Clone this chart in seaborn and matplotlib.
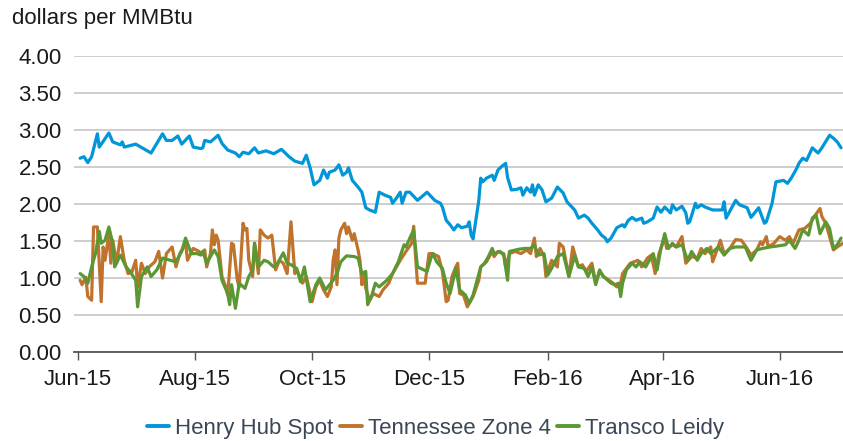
import numpy as np
import pandas as pd
import matplotlib
matplotlib.use("Agg")
import matplotlib.pyplot as plt
import matplotlib.dates as mdates
import seaborn as sns

# ---- data (days since 2015-06-01, $/MMBtu) ----
start_date = "2015-06-01"

henry_days = [1, 3, 5, 7, 10, 11, 16, 18, 22, 23, 24, 30, 34, 38, 44, 46, 49, 52, 54, 58,
              60, 64, 65, 66, 69, 73, 75, 78, 82, 84, 86, 89, 92, 94, 98, 102, 106, 110, 113, 117,
              119, 121, 123, 126, 128, 130, 131, 134, 136, 138, 140, 141, 143, 146, 148, 150, 152, 155, 157, 160,
              163, 164, 166, 168, 169, 171, 173, 177, 182, 186, 189, 190, 192, 194, 196, 198, 200, 203, 204, 205,
              206, 209, 210, 211, 213, 216, 217, 219, 221, 223, 224, 226, 229, 231, 232, 234, 236, 237, 238, 240,
              242, 244, 247, 250, 253, 255, 259, 261, 264, 266, 268, 271, 273, 275, 276, 278, 281, 284, 285, 287,
              289, 291, 294, 295, 297, 300, 302, 304, 306, 309, 310, 312, 315, 317, 318, 319, 322, 323, 325, 327,
              331, 336, 337, 338, 343, 345, 349, 351, 355, 357, 358, 359, 362, 364, 368, 370, 372, 375, 376, 378,
              380, 383, 386, 388, 392, 394, 396, 398]
henry_hub = [2.62, 2.64, 2.56, 2.64, 2.95, 2.77, 2.96, 2.84, 2.80, 2.84, 2.77, 2.81, 2.75, 2.69, 2.95, 2.86, 2.86, 2.92, 2.81, 2.92,
             2.77, 2.75, 2.76, 2.86, 2.84, 2.93, 2.82, 2.73, 2.69, 2.64, 2.70, 2.68, 2.76, 2.69, 2.72, 2.68, 2.74, 2.64, 2.58, 2.55,
             2.66, 2.49, 2.26, 2.32, 2.46, 2.35, 2.43, 2.46, 2.53, 2.39, 2.43, 2.49, 2.32, 2.23, 2.16, 1.95, 1.92, 1.89, 2.16, 2.12,
             2.09, 2.01, 2.08, 2.16, 2.01, 2.16, 2.16, 2.05, 2.16, 2.05, 2.01, 1.96, 1.78, 1.72, 1.65, 1.72, 1.68, 1.70, 1.76, 1.58,
             1.53, 2.05, 2.35, 2.30, 2.35, 2.39, 2.32, 2.46, 2.51, 2.55, 2.36, 2.19, 2.20, 2.22, 2.12, 2.22, 2.16, 2.26, 2.12, 2.26,
             2.19, 2.03, 2.08, 2.23, 2.15, 2.03, 1.92, 1.81, 1.85, 1.81, 1.74, 1.65, 1.58, 1.54, 1.49, 1.54, 1.68, 1.72, 1.69, 1.78,
             1.82, 1.78, 1.81, 1.74, 1.76, 1.81, 1.96, 1.89, 1.96, 1.88, 1.99, 1.92, 1.97, 1.88, 1.74, 1.76, 2.01, 1.95, 1.99, 1.96,
             1.92, 1.92, 2.03, 1.81, 2.05, 1.99, 1.95, 1.82, 1.95, 1.81, 1.74, 1.76, 2.01, 2.30, 2.32, 2.28, 2.35, 2.49, 2.55, 2.62,
             2.59, 2.76, 2.69, 2.76, 2.93, 2.89, 2.84, 2.76]

tenn_days = [1, 2, 4, 5, 7, 8, 10, 12, 13, 14, 16, 17, 18, 20, 22, 24, 26, 28, 30, 31,
             33, 35, 37, 40, 42, 44, 46, 49, 51, 53, 56, 57, 60, 63, 64, 66, 67, 69, 70, 71,
             72, 73, 75, 77, 78, 80, 81, 83, 84, 86, 87, 88, 89, 91, 92, 94, 95, 97, 99, 101,
             103, 105, 107, 109, 110, 111, 113, 114, 117, 119, 122, 124, 126, 128, 130, 132, 133, 134, 135, 136,
             137, 139, 140, 141, 143, 144, 146, 147, 148, 149, 150, 152, 154, 157, 159, 162, 164, 168, 171, 174,
             175, 176, 177, 181, 183, 185, 188, 190, 192, 193, 195, 197, 198, 199, 201, 203, 206, 209, 210, 213,
             216, 217, 219, 222, 223, 225, 228, 231, 234, 236, 238, 239, 241, 243, 244, 247, 250, 251, 253, 256,
             258, 261, 263, 265, 268, 270, 272, 274, 277, 279, 281, 283, 284, 286, 288, 290, 292, 294, 297, 299,
             301, 303, 306, 307, 310, 312, 315, 317, 320, 323, 325, 327, 330, 331, 333, 335, 337, 340, 343, 346,
             349, 351, 354, 356, 357, 359, 360, 363, 366, 369, 371, 373, 376, 379, 382, 384, 387, 388, 390, 392,
             394, 396, 399]
tennessee_z4 = [0.97, 0.91, 1.01, 0.75, 0.70, 1.69, 1.69, 0.68, 1.42, 1.24, 1.60, 1.20, 1.51, 1.20, 1.56, 1.24, 1.06, 1.08, 1.24, 0.88,
                1.20, 1.06, 1.15, 1.22, 1.36, 1.00, 1.33, 1.42, 1.15, 1.33, 1.47, 1.24, 1.40, 1.36, 1.33, 1.38, 1.15, 1.33, 1.65, 1.45,
                1.58, 1.51, 1.02, 0.88, 0.77, 1.47, 1.45, 0.97, 0.88, 1.74, 1.65, 1.67, 1.24, 1.02, 1.47, 1.06, 1.65, 1.58, 1.54, 1.58,
                1.11, 1.24, 1.20, 1.06, 1.42, 1.76, 1.06, 1.11, 0.93, 1.02, 0.68, 0.88, 0.97, 0.84, 0.75, 0.88, 1.24, 1.38, 0.91, 1.54,
                1.65, 1.74, 1.60, 1.69, 1.51, 1.60, 1.38, 1.24, 0.91, 1.06, 0.86, 0.70, 0.79, 0.75, 0.84, 0.93, 1.06, 1.24, 1.36, 1.47,
                1.70, 1.29, 0.93, 0.93, 1.33, 1.33, 1.29, 1.09, 0.68, 0.70, 1.02, 1.15, 1.20, 0.79, 0.77, 0.61, 0.75, 0.97, 1.15, 1.22,
                1.36, 1.29, 1.36, 1.33, 1.15, 1.33, 1.36, 1.33, 1.38, 1.33, 1.54, 1.29, 1.40, 1.29, 1.02, 1.24, 1.15, 1.47, 1.42, 1.02,
                1.42, 1.15, 1.18, 1.09, 1.20, 0.93, 1.09, 1.02, 0.97, 0.93, 0.88, 0.93, 1.06, 1.13, 1.20, 1.22, 1.24, 1.15, 1.27, 1.31,
                1.06, 1.33, 1.54, 1.40, 1.45, 1.42, 1.56, 1.20, 1.29, 1.27, 1.40, 1.33, 1.42, 1.22, 1.36, 1.51, 1.33, 1.40, 1.52, 1.51,
                1.40, 1.31, 1.38, 1.49, 1.45, 1.56, 1.42, 1.47, 1.56, 1.51, 1.56, 1.47, 1.65, 1.67, 1.74, 1.83, 1.94, 1.83, 1.74, 1.56,
                1.38, 1.42, 1.47]

leidy_days = [1, 3, 5, 7, 9, 11, 12, 14, 16, 18, 19, 22, 25, 27, 30, 31, 33, 36, 38, 41,
              44, 48, 51, 54, 56, 59, 62, 64, 65, 67, 71, 73, 75, 78, 79, 80, 82, 84, 87, 89,
              91, 92, 94, 97, 99, 102, 104, 107, 109, 111, 114, 116, 118, 121, 124, 126, 129, 133, 135, 137,
              140, 144, 146, 148, 150, 151, 153, 155, 157, 161, 164, 167, 170, 171, 173, 175, 177, 182, 184, 185,
              187, 190, 192, 194, 197, 199, 202, 204, 206, 210, 212, 214, 216, 217, 220, 222, 224, 225, 230, 233,
              236, 238, 240, 243, 245, 248, 250, 253, 256, 259, 261, 264, 266, 268, 270, 272, 274, 278, 280, 282,
              283, 284, 286, 289, 291, 293, 296, 298, 300, 302, 304, 306, 308, 310, 312, 315, 318, 320, 323, 325,
              328, 330, 334, 337, 340, 343, 348, 351, 354, 357, 361, 364, 369, 371, 374, 376, 378, 381, 383, 385,
              387, 390, 392, 394, 396, 398]
transco_leidy = [1.06, 1.02, 0.93, 1.15, 1.33, 1.63, 1.47, 1.51, 1.69, 1.47, 1.15, 1.31, 1.15, 1.09, 0.97, 0.61, 1.02, 1.15, 1.02, 1.11,
                 1.27, 1.24, 1.22, 1.36, 1.54, 1.33, 1.33, 1.31, 1.36, 1.20, 1.38, 1.29, 0.97, 0.79, 0.64, 0.91, 0.59, 0.93, 0.86, 1.02,
                 1.11, 1.47, 1.15, 1.24, 1.22, 1.15, 1.20, 1.34, 1.20, 1.18, 1.13, 0.95, 1.15, 0.68, 0.91, 1.00, 0.84, 0.97, 1.06, 1.22,
                 1.30, 1.29, 1.27, 1.06, 1.09, 0.64, 0.75, 0.93, 0.88, 0.97, 1.06, 1.22, 1.45, 1.42, 1.54, 1.65, 1.15, 1.09, 1.27, 1.33,
                 1.22, 1.13, 0.93, 0.79, 1.13, 0.84, 0.77, 0.66, 0.77, 1.15, 1.20, 1.29, 1.40, 1.33, 1.36, 1.31, 0.97, 1.36, 1.39, 1.40,
                 1.40, 1.45, 1.31, 1.33, 1.04, 1.18, 1.29, 1.33, 1.02, 1.30, 1.15, 1.13, 1.02, 1.15, 0.91, 1.11, 1.02, 0.93, 0.91, 0.93,
                 0.75, 0.93, 1.11, 1.20, 1.15, 1.22, 1.15, 1.24, 1.33, 1.11, 1.40, 1.60, 1.40, 1.47, 1.42, 1.45, 1.24, 1.36, 1.24, 1.33,
                 1.40, 1.33, 1.42, 1.31, 1.40, 1.42, 1.42, 1.24, 1.38, 1.40, 1.42, 1.43, 1.45, 1.51, 1.40, 1.51, 1.65, 1.58, 1.81, 1.85,
                 1.60, 1.76, 1.67, 1.40, 1.45, 1.54]

series_names = ["Henry Hub Spot", "Tennessee Zone 4", "Transco Leidy"]
series_colors = ["#0096d7", "#bf732c", "#5b9733"]
y_ticks = [0.0, 0.5, 1.0, 1.5, 2.0, 2.5, 3.0, 3.5, 4.0]
y_label = "dollars per MMBtu"

# ---- build long table ----
base = pd.Timestamp(start_date)
frames = []
for name, d, v in zip(series_names,
                      [henry_days, tenn_days, leidy_days],
                      [henry_hub, tennessee_z4, transco_leidy]):
    frames.append(pd.DataFrame({"date": base + pd.to_timedelta(d, unit="D"),
                                "value": v, "series": name}))
df = pd.concat(frames, ignore_index=True)

# ---- plot ----
sns.set_theme(style="white")
plt.rcParams["font.family"] = ["Liberation Sans", "DejaVu Sans"]
text_color = "#1a1a1a"
fs = 16

fig = plt.figure(figsize=(8.43, 4.41), dpi=100)
ax = fig.add_axes([0.088, 0.2018, 0.912, 0.671])

sns.lineplot(data=df, x="date", y="value", hue="series", hue_order=series_names,
             palette=series_colors, linewidth=2.3, ax=ax, legend=True, estimator=None, sort=True)

ax.set_ylim(0, 4.0)
ax.set_yticks(y_ticks)
ax.set_yticklabels([f"{t:.2f}" for t in y_ticks], fontsize=fs, color=text_color)
ax.set_xlim(base - pd.Timedelta(days=2.1), base + pd.Timedelta(days=399))
ax.xaxis.set_major_locator(mdates.MonthLocator(bymonth=[2, 4, 6, 8, 10, 12], bymonthday=1))
ax.xaxis.set_major_formatter(mdates.DateFormatter("%b-%y"))
for lab in ax.get_xticklabels():
    lab.set_fontsize(fs)
    lab.set_color(text_color)

ax.grid(axis="y", color="#c6c6c6", linewidth=1.2)
ax.grid(axis="x", visible=False)
ax.set_axisbelow(True)
for s in ["top", "right", "left"]:
    ax.spines[s].set_visible(False)
ax.spines["bottom"].set_color("#555555")
ax.spines["bottom"].set_linewidth(1.3)
ax.tick_params(axis="x", direction="out", length=6, width=1.0, color="#555555", pad=6, bottom=True)
ax.tick_params(axis="y", length=0, pad=9)
ax.set_xlabel("")
ax.set_ylabel("")

fig.text(0.014, 0.958, y_label, fontsize=fs, color=text_color, ha="left", va="center")

handles, labels = ax.get_legend_handles_labels()
for h in handles:
    h.set_linewidth(2.8)
ax.legend(handles, labels, loc="center", bbox_to_anchor=(0.47, -0.257), ncol=3,
          frameon=False, fontsize=fs, handlelength=1.0, handletextpad=0.25, columnspacing=0.3,
          labelcolor="#3a4756")

fig.savefig("out.png", dpi=100)
